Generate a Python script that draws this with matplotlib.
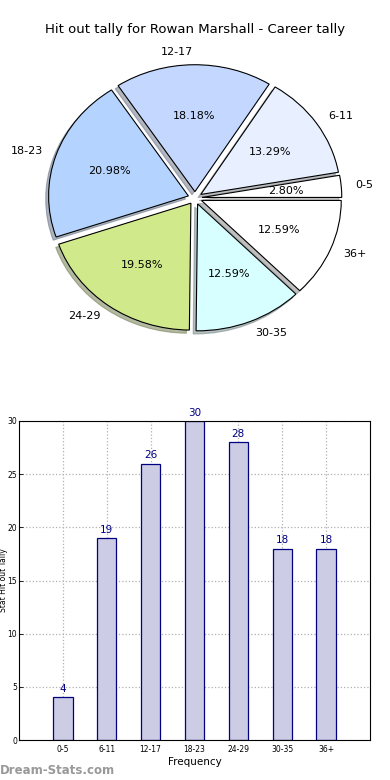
import matplotlib
matplotlib.use("Agg")
import matplotlib.pyplot as plt
import numpy as np

W, H = 390, 780

# data
categories = ["0-5", "6-11", "12-17", "18-23", "24-29", "30-35", "36+"]
tally = [4, 19, 26, 30, 28, 18, 18]
pie_colors = ["#ffffff", "#e8f0ff", "#c4d8ff", "#b4d4ff", "#d0e98a", "#d8ffff", "#ffffff"]
yticks = [0, 5, 10, 15, 20, 25, 30]

title = "Hit out tally for Rowan Marshall - Career tally"


def px_box(x0, y0, x1, y1):
    # pixel box (top-left origin) -> figure fraction rect
    return [x0 / W, 1 - y1 / H, (x1 - x0) / W, (y1 - y0) / H]


fig = plt.figure(figsize=(W / 100, H / 100), dpi=100)
fig.patch.set_facecolor("white")

fig.text(195 / W, 1 - 30 / H, title, ha="center", va="center", fontsize=9.5)

# pie (stretched a bit horizontally like the old rendering)
ax1 = fig.add_axes(px_box(0, 33, 390, 363))
ax1.pie(tally, labels=categories, colors=pie_colors, autopct="%.2f%%",
        explode=[0.05] * len(tally),
        shadow=dict(ox=-0.015, oy=-0.018, shade=0.5),
        startangle=0,
        wedgeprops=dict(edgecolor="black", linewidth=0.8),
        textprops=dict(fontsize=8))
ax1.set_aspect("auto")
ax1.set_xlim(-1.395, 1.395)
ax1.set_ylim(-1.3, 1.3)
ax1.axis("off")

# bar chart
ax2 = fig.add_axes(px_box(19, 421, 370, 740))
x = np.arange(len(categories))
bars = ax2.bar(x, tally, width=0.44, color="#ccccE5", edgecolor="#000080", linewidth=0.9, zorder=2)
for b, v in zip(bars, tally):
    ax2.text(b.get_x() + b.get_width() / 2, v + 0.3, str(v), ha="center", va="bottom",
             fontsize=7.5, color="#000080")
ax2.set_xlim(-1, 7)
ax2.set_ylim(0, 30)
ax2.set_xticks(x)
ax2.set_xticklabels(categories, fontsize=5.5)
ax2.set_yticks(yticks)
ax2.set_yticklabels([str(t) for t in yticks], fontsize=5.5)
ax2.tick_params(direction="in", length=3, width=0.6, pad=3.5)
ax2.tick_params(axis="y", pad=1.5)
ax2.grid(True, linestyle=":", color="#b0b0b0", linewidth=0.9, zorder=0)
ax2.set_axisbelow(True)
ax2.set_xlabel("Frequency", fontsize=7.5, labelpad=2)
for s in ax2.spines.values():
    s.set_linewidth(0.8)

# y label squeezed against the left edge
fig.text(3.2 / W, 1 - 580 / H, "Stat Hit out Tally", rotation=90, ha="center", va="center", fontsize=5.5)

fig.text(0, 1 - 770 / H, "Dream-Stats.com", ha="left", va="center", fontsize=8.5,
         color="#999999", fontweight="bold")

fig.savefig("out.png", dpi=100, facecolor="white")
